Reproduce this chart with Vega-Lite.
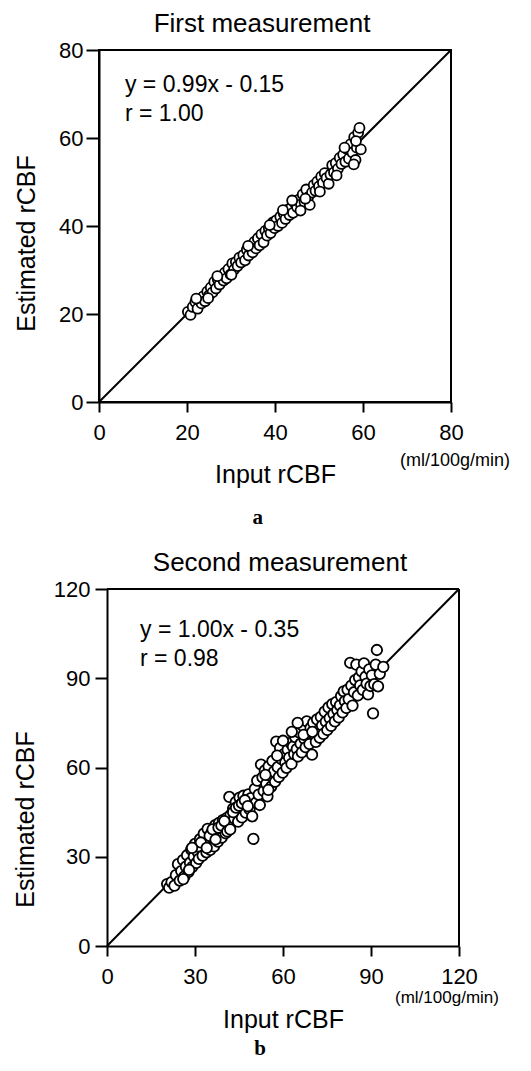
{
  "$schema": "https://vega.github.io/schema/vega-lite/v6.json",
  "background": "white",
  "padding": {"left": 13, "top": 10, "right": 5, "bottom": 5},
  "spacing": 20,
  "bounds": "full",
  "config": {
    "font": "Liberation Sans",
    "view": {"stroke": "black", "strokeWidth": 2},
    "axis": {"domainColor": "black", "domainWidth": 2, "tickColor": "black", "tickWidth": 2, "grid": false, "labelFont": "Liberation Sans", "labelFontSize": 22, "labelColor": "black", "titleFont": "Liberation Sans", "titleFontSize": 25, "titleFontWeight": "normal", "titleColor": "black", "labelFlush": false, "labelOverlap": false, "labelBound": false},
    "title": {"font": "Liberation Sans", "fontSize": 26, "fontWeight": "normal", "color": "black", "anchor": "middle"}
  },
  "datasets": {
    "pa": [
      {"x":20.2,"y":20.5},{"x":20.8,"y":19.8},{"x":21.3,"y":21.6},{"x":21.9,"y":22.7},{"x":22.4,"y":21.2},{"x":22.8,"y":23.1},{"x":23.3,"y":22.4},{"x":23.7,"y":24.0},{"x":24.1,"y":22.9},{"x":24.6,"y":25.1},
      {"x":25.0,"y":24.2},{"x":25.4,"y":26.0},{"x":25.8,"y":24.9},{"x":26.2,"y":27.3},{"x":26.6,"y":25.8},{"x":27.0,"y":27.9},{"x":27.4,"y":26.7},{"x":27.9,"y":28.3},{"x":28.3,"y":27.6},{"x":28.6,"y":29.4},
      {"x":29.0,"y":28.1},{"x":29.4,"y":30.2},{"x":29.9,"y":29.0},{"x":30.3,"y":31.5},{"x":30.7,"y":30.1},{"x":31.1,"y":31.8},{"x":31.5,"y":30.9},{"x":31.9,"y":32.8},{"x":32.3,"y":31.7},{"x":32.8,"y":33.4},
      {"x":33.2,"y":32.2},{"x":33.6,"y":34.6},{"x":34.0,"y":33.3},{"x":34.5,"y":35.2},{"x":34.9,"y":34.0},{"x":35.3,"y":36.4},{"x":35.7,"y":34.9},{"x":36.1,"y":37.2},{"x":36.5,"y":35.6},{"x":36.9,"y":38.1},
      {"x":37.4,"y":36.3},{"x":37.8,"y":38.9},{"x":38.2,"y":37.8},{"x":38.6,"y":39.5},{"x":39.0,"y":38.4},{"x":39.5,"y":40.8},{"x":39.9,"y":39.5},{"x":40.3,"y":41.3},{"x":40.7,"y":40.0},{"x":41.2,"y":42.1},
      {"x":41.6,"y":40.7},{"x":42.0,"y":42.8},{"x":42.4,"y":41.6},{"x":42.9,"y":43.7},{"x":43.3,"y":42.5},{"x":43.7,"y":44.2},{"x":44.1,"y":43.0},{"x":44.6,"y":45.1},{"x":45.0,"y":44.3},{"x":45.4,"y":46.0},
      {"x":45.9,"y":44.9},{"x":46.3,"y":47.2},{"x":46.7,"y":45.5},{"x":47.1,"y":48.3},{"x":47.5,"y":46.5},{"x":47.9,"y":44.8},{"x":48.4,"y":47.6},{"x":48.8,"y":49.3},{"x":49.2,"y":48.0},{"x":49.6,"y":50.1},
      {"x":50.0,"y":49.0},{"x":50.5,"y":51.2},{"x":50.9,"y":49.8},{"x":51.3,"y":52.0},{"x":51.7,"y":50.9},{"x":52.2,"y":49.6},{"x":52.6,"y":51.7},{"x":53.0,"y":53.8},{"x":53.4,"y":52.2},{"x":53.8,"y":54.3},
      {"x":54.3,"y":53.0},{"x":54.7,"y":55.5},{"x":55.1,"y":54.1},{"x":55.5,"y":56.2},{"x":56.0,"y":54.6},{"x":56.4,"y":57.5},{"x":56.8,"y":55.3},{"x":57.2,"y":58.6},{"x":57.6,"y":56.7},{"x":58.0,"y":60.2},
      {"x":58.3,"y":55.0},{"x":58.6,"y":57.8},{"x":58.9,"y":61.2},{"x":59.2,"y":62.3},{"x":59.5,"y":57.4},{"x":57.9,"y":54.0},{"x":58.4,"y":59.3},{"x":55.8,"y":57.8},{"x":54.0,"y":51.5},{"x":50.2,"y":47.8},
      {"x":45.8,"y":43.5},{"x":46.9,"y":46.2},{"x":43.9,"y":45.8},{"x":41.8,"y":43.6},{"x":38.8,"y":40.2},{"x":33.9,"y":35.5},{"x":30.1,"y":28.9},{"x":26.9,"y":28.6},{"x":24.8,"y":23.6},{"x":22.1,"y":23.5}
    ],
    "pb": [
      {"x":20.5,"y":20.8},{"x":21.2,"y":19.6},{"x":22.0,"y":21.5},{"x":23.0,"y":20.3},{"x":23.5,"y":23.8},{"x":24.2,"y":27.5},{"x":24.8,"y":22.0},{"x":25.3,"y":25.2},{"x":25.9,"y":28.9},{"x":26.4,"y":23.4},
      {"x":26.9,"y":26.7},{"x":27.3,"y":30.5},{"x":27.8,"y":24.9},{"x":28.3,"y":28.0},{"x":28.7,"y":32.4},{"x":29.1,"y":26.6},{"x":29.6,"y":30.1},{"x":30.0,"y":34.3},{"x":30.4,"y":27.9},{"x":30.9,"y":31.6},
      {"x":31.3,"y":29.3},{"x":31.7,"y":35.9},{"x":32.2,"y":32.7},{"x":32.6,"y":30.4},{"x":33.0,"y":37.8},{"x":33.5,"y":33.8},{"x":33.9,"y":31.5},{"x":34.3,"y":39.4},{"x":34.8,"y":35.0},{"x":35.2,"y":32.3},
      {"x":35.6,"y":38.0},{"x":36.1,"y":36.2},{"x":36.5,"y":33.5},{"x":36.9,"y":40.6},{"x":37.4,"y":37.5},{"x":37.8,"y":35.1},{"x":38.2,"y":41.4},{"x":38.7,"y":38.6},{"x":39.1,"y":36.4},{"x":39.5,"y":42.3},
      {"x":40.0,"y":39.8},{"x":40.4,"y":37.9},{"x":40.8,"y":43.0},{"x":41.3,"y":40.7},{"x":41.7,"y":50.1},{"x":42.1,"y":44.0},{"x":42.6,"y":41.6},{"x":43.0,"y":46.2},{"x":43.4,"y":42.9},{"x":43.9,"y":48.4},
      {"x":44.3,"y":44.5},{"x":44.7,"y":41.8},{"x":45.2,"y":49.9},{"x":45.6,"y":45.7},{"x":46.0,"y":43.2},{"x":46.5,"y":50.5},{"x":46.9,"y":47.2},{"x":47.3,"y":44.8},{"x":47.8,"y":48.6},{"x":48.2,"y":51.0},
      {"x":48.6,"y":46.0},{"x":49.1,"y":49.7},{"x":49.5,"y":43.6},{"x":49.9,"y":36.0},{"x":50.4,"y":52.8},{"x":50.8,"y":48.2},{"x":51.2,"y":55.6},{"x":51.7,"y":50.9},{"x":52.1,"y":47.4},{"x":52.5,"y":61.0},
      {"x":53.0,"y":56.7},{"x":53.4,"y":52.1},{"x":53.8,"y":59.0},{"x":54.3,"y":54.5},{"x":54.7,"y":50.3},{"x":55.1,"y":60.4},{"x":55.6,"y":57.3},{"x":56.0,"y":53.6},{"x":56.4,"y":62.2},{"x":56.9,"y":58.6},
      {"x":57.3,"y":55.2},{"x":57.7,"y":68.7},{"x":58.2,"y":60.1},{"x":58.6,"y":56.8},{"x":59.0,"y":66.6},{"x":59.5,"y":62.8},{"x":59.9,"y":58.3},{"x":60.3,"y":64.5},{"x":60.8,"y":61.7},{"x":61.2,"y":59.9},
      {"x":61.6,"y":66.0},{"x":62.1,"y":63.3},{"x":62.5,"y":68.3},{"x":62.9,"y":61.2},{"x":63.4,"y":67.0},{"x":63.8,"y":64.5},{"x":64.2,"y":70.2},{"x":64.7,"y":66.2},{"x":65.1,"y":63.7},{"x":65.5,"y":71.8},
      {"x":66.0,"y":68.0},{"x":66.4,"y":65.1},{"x":66.8,"y":74.0},{"x":67.3,"y":69.6},{"x":67.7,"y":66.8},{"x":68.1,"y":75.5},{"x":68.6,"y":71.2},{"x":69.0,"y":67.9},{"x":69.4,"y":73.3},{"x":69.9,"y":64.3},
      {"x":70.3,"y":75.0},{"x":70.7,"y":70.9},{"x":71.2,"y":68.6},{"x":71.6,"y":76.2},{"x":72.0,"y":72.5},{"x":72.5,"y":70.0},{"x":72.9,"y":77.0},{"x":73.3,"y":74.1},{"x":73.8,"y":71.3},{"x":74.2,"y":78.8},
      {"x":74.6,"y":75.4},{"x":75.1,"y":72.6},{"x":75.5,"y":80.2},{"x":75.9,"y":76.6},{"x":76.4,"y":74.0},{"x":76.8,"y":81.3},{"x":77.2,"y":78.0},{"x":77.7,"y":75.5},{"x":78.1,"y":82.0},{"x":78.5,"y":79.3},
      {"x":79.0,"y":76.8},{"x":79.4,"y":80.9},{"x":79.8,"y":84.0},{"x":80.3,"y":78.5},{"x":80.7,"y":85.6},{"x":81.1,"y":82.3},{"x":81.6,"y":80.0},{"x":82.0,"y":86.2},{"x":82.4,"y":83.0},{"x":82.9,"y":95.2},
      {"x":83.3,"y":87.5},{"x":83.7,"y":80.8},{"x":84.2,"y":85.3},{"x":84.6,"y":89.4},{"x":85.0,"y":94.6},{"x":85.5,"y":84.2},{"x":85.9,"y":90.3},{"x":86.3,"y":87.6},{"x":86.8,"y":92.3},{"x":87.2,"y":86.1},
      {"x":87.6,"y":95.0},{"x":88.1,"y":90.5},{"x":88.5,"y":88.2},{"x":89.0,"y":84.6},{"x":89.4,"y":93.0},{"x":89.8,"y":87.4},{"x":90.3,"y":91.0},{"x":90.7,"y":78.2},{"x":91.1,"y":88.0},{"x":91.6,"y":94.6},
      {"x":92.0,"y":99.5},{"x":92.4,"y":87.3},{"x":93.0,"y":91.5},{"x":94.2,"y":93.8},{"x":31.0,"y":33.5},{"x":32.0,"y":34.8},{"x":34.0,"y":33.0},{"x":35.0,"y":37.0},{"x":36.0,"y":39.2},{"x":37.0,"y":35.8},
      {"x":38.0,"y":39.8},{"x":39.0,"y":40.5},{"x":40.0,"y":42.0},{"x":41.0,"y":38.5},{"x":42.0,"y":39.2},{"x":43.0,"y":45.0},{"x":44.0,"y":46.5},{"x":45.0,"y":47.2},{"x":46.0,"y":48.0},{"x":47.0,"y":49.0},
      {"x":48.0,"y":47.0},{"x":28.0,"y":25.6},{"x":26.0,"y":22.5},{"x":29.0,"y":33.0},{"x":60.0,"y":69.0},{"x":65.0,"y":75.0},{"x":63.0,"y":72.0},{"x":67.0,"y":71.0},{"x":70.0,"y":72.0},{"x":58.0,"y":64.0},
      {"x":54.0,"y":57.5},{"x":55.0,"y":52.5}
    ]
  },
  "vconcat": [
    {
      "width": 352,
      "height": 352,
      "title": {"text": "First measurement", "offset": 2, "dx": -13},
      "encoding": {
        "x": {"field": "x", "type": "quantitative", "scale": {"domain": [0, 80], "nice": false}, "axis": {"values": [0, 20, 40, 60, 80], "tickSize": 10, "labelPadding": 10, "titlePadding": 19, "title": "Input rCBF"}},
        "y": {"field": "y", "type": "quantitative", "scale": {"domain": [0, 80], "nice": false}, "axis": {"values": [0, 20, 40, 60, 80], "tickSize": 13, "labelPadding": 3, "titlePadding": 19, "titleY": 193, "title": "Estimated rCBF"}}
      },
      "layer": [
        {"data": {"values": [{"x": 0, "y": 0, "x2": 80, "y2": 80}]}, "mark": {"type": "rule", "color": "black", "strokeWidth": 2}, "encoding": {"x2": {"field": "x2"}, "y2": {"field": "y2"}}},
        {"data": {"name": "pa"}, "mark": {"type": "circle", "fill": "white", "stroke": "black", "strokeWidth": 1.8, "opacity": 1, "size": 100}},
        {"data": {"values": [{"x": 5.9, "y": 70.5, "label": "y = 0.99x - 0.15"}, {"x": 5.9, "y": 63.9, "label": "r = 1.00"}]}, "mark": {"type": "text", "align": "left", "baseline": "alphabetic", "fontSize": 23, "color": "black", "font": "Liberation Sans"}, "encoding": {"text": {"field": "label"}}},
        {"data": {"values": [{"x": 80.9, "y": -13.4, "label": "(ml/100g/min)"}]}, "mark": {"type": "text", "align": "center", "baseline": "middle", "fontSize": 18, "color": "black", "font": "Liberation Sans"}, "encoding": {"text": {"field": "label"}}},
        {"data": {"values": [{"x": 36.1, "y": -26.4, "label": "a"}]}, "mark": {"type": "text", "align": "center", "baseline": "middle", "fontSize": 21, "fontWeight": "bold", "color": "black", "font": "Liberation Serif"}, "encoding": {"text": {"field": "label"}}}
      ]
    },
    {
      "width": 360,
      "height": 357,
      "view": {"stroke": null},
      "title": {"text": "Second measurement", "offset": 2, "dx": 1},
      "encoding": {
        "x": {"field": "x", "type": "quantitative", "scale": {"domain": [0, 120], "nice": false, "range": [8, 360]}, "axis": {"values": [0, 30, 60, 90, 120], "tickSize": 10, "labelPadding": 10, "titlePadding": 20, "title": "Input rCBF"}},
        "y": {"field": "y", "type": "quantitative", "scale": {"domain": [0, 120], "nice": false}, "axis": {"values": [0, 30, 60, 90, 120], "offset": -8, "tickSize": 12, "labelPadding": 5, "titlePadding": 15, "titleY": 230, "title": "Estimated rCBF"}}
      },
      "layer": [
        {"data": {"values": [{"x": 0, "y": 0, "x2": 120, "y2": 120}, {"x": 0, "y": 120, "x2": 120, "y2": 120}, {"x": 120, "y": 0, "x2": 120, "y2": 120}]}, "mark": {"type": "rule", "color": "black", "strokeWidth": 2}, "encoding": {"x2": {"field": "x2"}, "y2": {"field": "y2"}}},
        {"data": {"name": "pb"}, "mark": {"type": "circle", "fill": "white", "stroke": "black", "strokeWidth": 1.8, "opacity": 1, "size": 110}},
        {"data": {"values": [{"x": 11.25, "y": 103.9, "label": "y = 1.00x - 0.35"}, {"x": 11.25, "y": 94.1, "label": "r = 0.98"}]}, "mark": {"type": "text", "align": "left", "baseline": "alphabetic", "fontSize": 23, "color": "black", "font": "Liberation Sans"}, "encoding": {"text": {"field": "label"}}},
        {"data": {"values": [{"x": 115.9, "y": -17.6, "label": "(ml/100g/min)"}]}, "mark": {"type": "text", "align": "center", "baseline": "middle", "fontSize": 17, "color": "black", "font": "Liberation Sans"}, "encoding": {"text": {"field": "label"}}},
        {"data": {"values": [{"x": 52.2, "y": -34.6, "label": "b"}]}, "mark": {"type": "text", "align": "center", "baseline": "middle", "fontSize": 21, "fontWeight": "bold", "color": "black", "font": "Liberation Serif"}, "encoding": {"text": {"field": "label"}}}
      ]
    }
  ]
}
